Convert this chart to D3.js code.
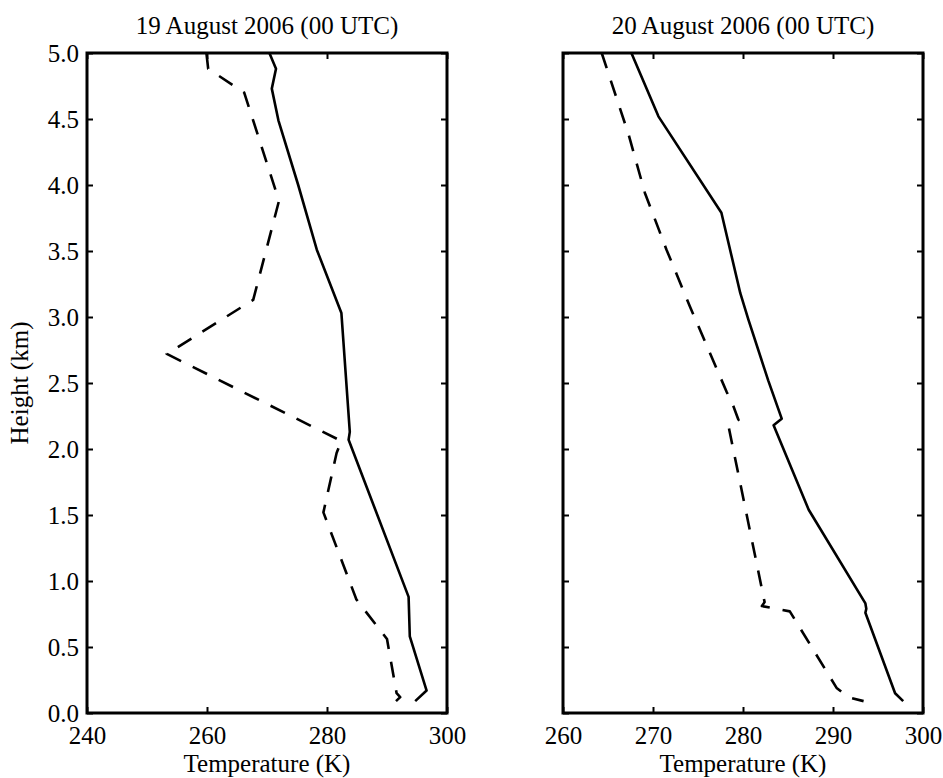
<!DOCTYPE html>
<html>
<head>
<meta charset="utf-8">
<script src="https://cdn.jsdelivr.net/npm/d3@7"></script>
<style>
  body { margin: 0; background: #fff; }
  text { font-family: 'Liberation Serif', 'Times New Roman', serif; fill: #000; }
</style>
</head>
<body>
<svg id="chart" width="943" height="778"></svg>
<script>
'use strict'

// 19 August: solid and dashed profiles
const solid19H = [5.0, 4.88, 4.73, 4.49, 4.0, 3.51, 3.03, 2.13, 2.07, 0.88, 0.58, 0.17, 0.09]
const solid19T = [270.4, 271.5, 270.8, 271.9, 275.2, 278.3, 282.4, 283.8, 283.6, 293.6, 293.8, 296.6, 294.7]
const dashed19H = [5.0, 4.88, 4.70, 3.88, 3.13, 2.72, 2.06, 1.97, 1.52, 0.86, 0.56, 0.15, 0.12, 0.09]
const dashed19T = [259.9, 260.2, 266.2, 272.0, 267.7, 253.3, 282.4, 281.6, 279.4, 284.9, 290.0, 291.6, 292.2, 291.5]

// 20 August
const solid20H = [5.0, 4.52, 3.79, 3.18, 2.98, 2.52, 2.23, 2.18, 1.54, 0.83, 0.79, 0.76, 0.15, 0.09]
const solid20T = [267.6, 270.6, 277.6, 279.7, 280.6, 282.8, 284.3, 283.4, 287.3, 293.6, 293.7, 293.6, 296.9, 297.8]
const dashed20H = [5.0, 4.38, 3.94, 3.51, 3.08, 2.43, 2.33, 2.22, 2.17, 0.84, 0.81, 0.77, 0.19, 0.12, 0.09]
const dashed20T = [264.3, 267.3, 269.1, 271.5, 274.1, 278.2, 278.9, 279.5, 278.4, 282.4, 282.1, 285.2, 290.4, 291.7, 293.4]

const titles = ['19 August 2006 (00 UTC)', '20 August 2006 (00 UTC)']
const xDomains = [[240, 300], [260, 300]]
const xTicks = [[240, 260, 280, 300], [260, 270, 280, 290, 300]]
const yTicks = [0, 0.5, 1.0, 1.5, 2.0, 2.5, 3.0, 3.5, 4.0, 4.5, 5.0]

const svg = d3.select('#chart')
const plotTop = 53
const plotBottom = 713
const panelW = 360
const lefts = [87, 563]
const fontSize = '25px'

const y = d3.scaleLinear().domain([0, 5]).range([plotBottom, plotTop])

const panels = [
  {solid: d3.zip(solid19T, solid19H), dashed: d3.zip(dashed19T, dashed19H)},
  {solid: d3.zip(solid20T, solid20H), dashed: d3.zip(dashed20T, dashed20H)}
]

function styleAxis (g) {
  g.select('.domain').remove()
  g.selectAll('.tick line').attr('stroke', '#000').attr('stroke-width', 2)
  g.selectAll('.tick text')
    .attr('font-size', fontSize)
    .attr('fill', '#000')
  g.attr('font-family', null).attr('font-size', null)
}

panels.forEach(function (p, i) {
  let left = lefts[i]
  let x = d3.scaleLinear().domain(xDomains[i]).range([left, left + panelW])
  let g = svg.append('g').attr('class', 'panel')

  g.append('g')
    .attr('transform', 'translate(0,' + plotBottom + ')')
    .call(d3.axisBottom(x).tickValues(xTicks[i]).tickSizeInner(-6).tickSizeOuter(0).tickPadding(13))
    .call(styleAxis)
  g.append('g')
    .attr('transform', 'translate(0,' + plotTop + ')')
    .call(d3.axisTop(x).tickValues(xTicks[i]).tickFormat('').tickSizeInner(-6).tickSizeOuter(0))
    .call(styleAxis)
  g.append('g')
    .attr('transform', 'translate(' + left + ',0)')
    .call(d3.axisLeft(y).tickValues(yTicks)
      .tickFormat(i === 0 ? d3.format('.1f') : '')
      .tickSizeInner(-6).tickSizeOuter(0).tickPadding(8))
    .call(styleAxis)
  g.append('g')
    .attr('transform', 'translate(' + (left + panelW) + ',0)')
    .call(d3.axisRight(y).tickValues(yTicks).tickFormat('').tickSizeInner(-6).tickSizeOuter(0))
    .call(styleAxis)

  let line = d3.line()
    .x(function (d) { return x(d[0]) })
    .y(function (d) { return y(d[1]) })

  g.append('path')
    .datum(p.solid)
    .attr('d', line)
    .attr('fill', 'none')
    .attr('stroke', '#000')
    .attr('stroke-width', 2.6)
    .attr('stroke-linejoin', 'round')
  g.append('path')
    .datum(p.dashed)
    .attr('d', line)
    .attr('fill', 'none')
    .attr('stroke', '#000')
    .attr('stroke-width', 2.6)
    .attr('stroke-dasharray', '16,13')
    .attr('stroke-linejoin', 'round')

  g.append('rect')
    .attr('x', left)
    .attr('y', plotTop)
    .attr('width', panelW)
    .attr('height', plotBottom - plotTop)
    .attr('fill', 'none')
    .attr('stroke', '#000')
    .attr('stroke-width', 3)

  g.append('text')
    .attr('x', left + panelW / 2)
    .attr('y', 34)
    .attr('text-anchor', 'middle')
    .attr('font-size', fontSize)
    .text(titles[i])
  g.append('text')
    .attr('x', left + panelW / 2)
    .attr('y', 772)
    .attr('text-anchor', 'middle')
    .attr('font-size', fontSize)
    .text('Temperature (K)')
})

svg.append('text')
  .attr('transform', 'translate(28,' + ((plotTop + plotBottom) / 2) + ') rotate(-90)')
  .attr('text-anchor', 'middle')
  .attr('font-size', fontSize)
  .text('Height (km)')
</script>
</body>
</html>
